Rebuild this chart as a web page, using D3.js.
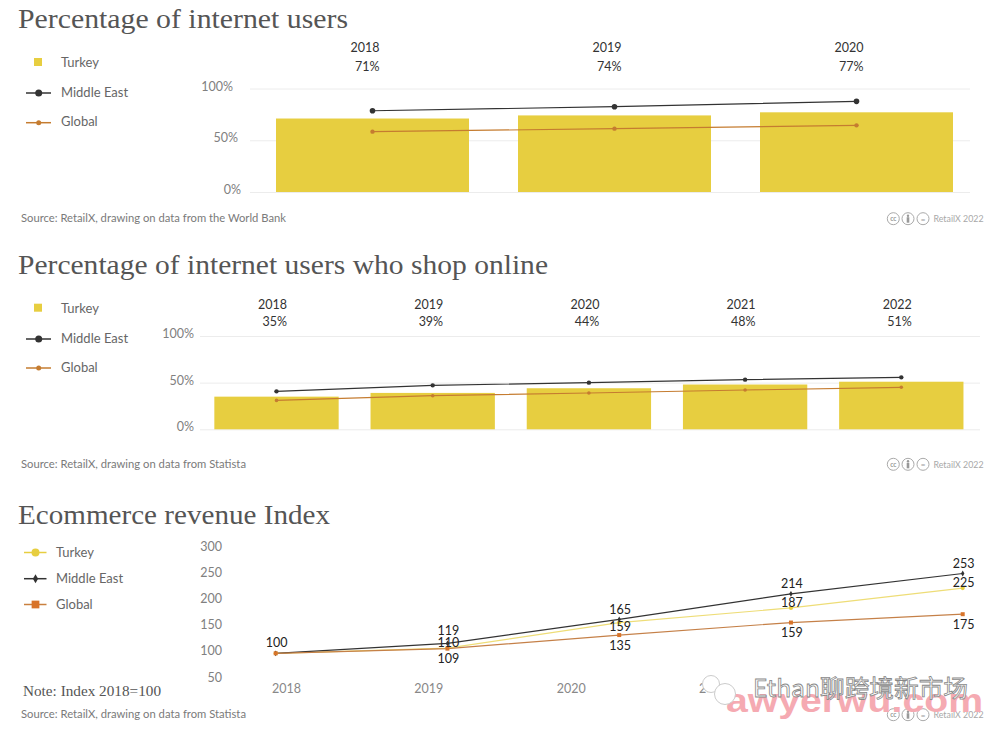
<!DOCTYPE html>
<html><head><meta charset="utf-8">
<script src="https://cdn.jsdelivr.net/npm/d3@7"></script>
<style>
html,body{margin:0;padding:0;background:#fff}
svg{display:block}
text{font-family:"Lato","Noto Sans",sans-serif}
.title,.note{font-family:"Liberation Serif",serif;fill:#555}
</style></head><body>
<svg id="c" width="1000" height="733"></svg>
<script>
// ---- data ----
const years1 = ["2018","2019","2020"];
const turkey1 = [71,74,77];
const middleEast1 = [78.5,82.4,87.6];
const global1 = [58.3,61.2,64.4];

const years2 = ["2018","2019","2020","2021","2022"];
const turkey2 = [35,39,44,48,51];
const middleEast2 = [40.7,47.1,50,53.2,55.7];
const global2 = [31,36,38.9,42.1,45];

const years3 = ["2018","2019","2020","2021","2022"];
const visibleYearTicks3 = ["2018","2019","2020","2021"];
const turkey3 = [100,110,159,187,225];
const middleEast3 = [100,119,165,214,253];
const global3 = [100,109,135,159,175];

const pctTicks = [0,50,100];
const indexTicks = [50,100,150,200,250,300];
const legendNames = ["Turkey","Middle East","Global"];

// ---- style ----
const YELLOW="#e7ce40", DARK="#333333", ORANGE="#c57c30";
const svg=d3.select("#c");

function title(t,y,w){
  svg.append("text").attr("class","title").attr("x",18).attr("y",y)
    .attr("font-size",27).attr("textLength",w).attr("lengthAdjust","spacingAndGlyphs").text(t);
}
function source(t,y,w){
  svg.append("text").attr("x",21).attr("y",y).attr("font-size",11.5).attr("fill","#7a7a7a")
    .attr("textLength",w).attr("lengthAdjust","spacingAndGlyphs").text(t);
}
function credit(y){
  const g=svg.append("g").attr("transform",`translate(0,${y})`);
  [893.3,908,923].forEach((cx,i)=>{
    g.append("circle").attr("cx",cx).attr("cy",0).attr("r",6).attr("fill","none").attr("stroke","#aaa").attr("stroke-width",1);
    if(i===0) g.append("text").attr("x",cx).attr("y",2.2).attr("text-anchor","middle").attr("font-size",6.5).attr("font-weight",700).attr("fill","#999").text("cc");
    if(i===1){
      g.append("circle").attr("cx",cx).attr("cy",-3).attr("r",1.2).attr("fill","#999");
      g.append("rect").attr("x",cx-1.3).attr("y",-1.5).attr("width",2.6).attr("height",5.5).attr("fill","#999");
    }
    if(i===2) g.append("text").attr("x",cx).attr("y",2.8).attr("text-anchor","middle").attr("font-size",8).attr("font-weight",700).attr("fill","#999").text("=");
  });
  g.append("text").attr("x",933.5).attr("y",3.5).attr("font-size",10).attr("fill","#a8a8a8")
    .attr("textLength",50).attr("lengthAdjust","spacingAndGlyphs").text("RetailX 2022");
}
function legendLabel(x,y,t){
  svg.append("text").attr("x",x).attr("y",y+4.6).attr("font-size",13).attr("fill","#666").text(t);
}
function legendBars(ys,tys){
  svg.append("rect").attr("x",34).attr("y",ys[0]-4).attr("width",8).attr("height",8).attr("fill",YELLOW);
  svg.append("line").attr("x1",26).attr("x2",51).attr("y1",ys[1]).attr("y2",ys[1]).attr("stroke",DARK).attr("stroke-width",1.5);
  svg.append("circle").attr("cx",38.7).attr("cy",ys[1]).attr("r",3.5).attr("fill",DARK);
  svg.append("line").attr("x1",26).attr("x2",51).attr("y1",ys[2]).attr("y2",ys[2]).attr("stroke",ORANGE).attr("stroke-width",1.5);
  svg.append("circle").attr("cx",38.7).attr("cy",ys[2]).attr("r",2.5).attr("fill",ORANGE);
  legendNames.forEach((n,i)=>legendLabel(61,tys[i],n));
}

function barPanel(o){
  const x=d3.scaleBand().domain(o.years).range(o.xRange).paddingInner(o.pad).paddingOuter(o.pad/2);
  const y=d3.scaleLinear().domain([0,100]).range(o.yRange);
  const ax=svg.append("g").attr("transform",`translate(${o.gridX[0]},0)`)
    .call(d3.axisLeft(y).tickValues(pctTicks).tickFormat(d=>d+"%").tickSize(-(o.gridX[1]-o.gridX[0])));
  ax.select(".domain").remove();
  ax.selectAll(".tick line").attr("stroke","#ececec").attr("stroke-width",1);
  ax.selectAll(".tick text").attr("font-size",12.5).attr("fill","#808080")
    .style("font-family",'"Lato","Noto Sans",sans-serif')
    .attr("x",o.tickX).attr("dy","0.32em").attr("transform","translate(0,-2.5)");

  svg.append("g").selectAll("rect").data(o.years).join("rect")
    .attr("x",d=>x(d)).attr("width",x.bandwidth())
    .attr("y",(d,i)=>y(o.turkey[i])).attr("height",(d,i)=>y(0)-y(o.turkey[i]))
    .attr("fill",YELLOW);

  const cx=d=>x(d)+x.bandwidth()/2;
  [[o.me,DARK,o.mr],[o.gl,ORANGE,o.gr]].forEach(([vals,c,r])=>{
    const line=d3.line().x((v,i)=>cx(o.years[i])).y(v=>y(v));
    svg.append("path").attr("d",line(vals)).attr("fill","none").attr("stroke",c).attr("stroke-width",1.2);
    svg.append("g").selectAll("circle").data(vals).join("circle")
      .attr("cx",(v,i)=>cx(o.years[i])).attr("cy",v=>y(v)).attr("r",r).attr("fill",c);
  });

  svg.append("g").selectAll("text").data(o.years).join("text")
    .attr("x",d=>cx(d)+o.yearDx).attr("y",o.labelY[0]).attr("text-anchor","middle")
    .attr("font-size",12.5).attr("fill","#333").text(d=>d);
  svg.append("g").selectAll("text").data(o.turkey).join("text")
    .attr("x",(v,i)=>cx(o.years[i])+o.valDx).attr("y",o.labelY[1]).attr("text-anchor","middle")
    .attr("font-size",12.5).attr("fill","#333").text(v=>v+"%");
}

// ---- panel 1 ----
title("Percentage of internet users",28,330);
legendBars([62,93,122.7],[62,92,121.5]);
barPanel({years:years1,turkey:turkey1,me:middleEast1,gl:global1,
  xRange:[251.5,977.5],pad:0.2025,yRange:[192,88.5],gridX:[250,970],
  tickX:d=>({0:-9,50:-12,100:-17}[d]),
  labelY:[52,71],yearDx:-7.5,valDx:-5.3,mr:2.8,gr:2.2});
source("Source: RetailX, drawing on data from the World Bank",222,265);
credit(218.7);

// ---- panel 2 ----
title("Percentage of internet users who shop online",274,530);
legendBars([307.7,339,368],[308,338,367]);
barPanel({years:years2,turkey:turkey2,me:middleEast2,gl:global2,
  xRange:[198.4,979.4],pad:0.204,yRange:[429.3,336],gridX:[200,980],
  tickX:()=>-6,
  labelY:[308.5,325.5],yearDx:-4,valDx:-1.8,mr:2.2,gr:1.8});
source("Source: RetailX, drawing on data from Statista",468,225);
credit(464.3);

// ---- panel 3 ----
title("Ecommerce revenue Index",524,312);
const xp=d3.scalePoint().domain(years3).range([275.7,962.7]);
const xt=d3.scalePoint().domain(years3).range([286,855.3]);
const y3=d3.scaleLinear().domain([50,300]).range([679.4,549]);

const ay=svg.append("g").attr("transform","translate(222,0)")
  .call(d3.axisLeft(y3).tickValues(indexTicks).tickSize(0));
ay.select(".domain").remove();
ay.selectAll(".tick text").attr("font-size",12.5).attr("fill","#808080")
  .style("font-family",'"Lato","Noto Sans",sans-serif')
  .attr("x",0).attr("dy","0.32em").attr("transform","translate(0,-2.4)");

const ax3=svg.append("g").attr("transform","translate(0,677)")
  .call(d3.axisBottom(xt).tickValues(visibleYearTicks3).tickSize(0));
ax3.select(".domain").remove();
ax3.selectAll(".tick text").attr("font-size",12.5).attr("fill","#888")
  .style("font-family",'"Lato","Noto Sans",sans-serif').attr("y",7);

const series3=[
  {vals:turkey3,color:"#eedd77",mark:d3.symbolCircle,size:14,mc:YELLOW},
  {vals:middleEast3,color:DARK,mark:d3.symbolDiamond,size:10,mc:DARK},
  {vals:global3,color:"#c58048",mark:d3.symbolSquare,size:16,mc:"#d8742a"}
];
series3.forEach(s=>{
  const line=d3.line().x((v,i)=>xp(years3[i])).y(v=>y3(v));
  svg.append("path").attr("d",line(s.vals)).attr("fill","none").attr("stroke",s.color).attr("stroke-width",1.2);
});
series3.forEach(s=>{
  svg.append("g").selectAll("path").data(s.vals).join("path")
    .attr("d",d3.symbol().type(s.mark).size(s.size))
    .attr("transform",(v,i)=>`translate(${xp(years3[i])},${y3(v)})`).attr("fill",s.mc);
});

// value labels, placed around each point
const labelDy={
  me:(i)=>i===1?-13:-10.5,
  tu:(i)=>i===2?4:-6,
  gl:(i)=>10
};
function valueLabels(vals,dyFn,start){
  svg.append("g").selectAll("text").data(vals.slice(start)).join("text")
    .attr("x",(v,i)=>xp(years3[i+start])+1).attr("y",(v,i)=>y3(v)+dyFn(i+start)+4.6)
    .attr("text-anchor","middle").attr("font-size",12.5).attr("fill","#222").text(v=>v);
}
valueLabels(middleEast3,labelDy.me,0);
valueLabels(turkey3,labelDy.tu,1);
valueLabels(global3,labelDy.gl,1);

// legend panel 3
const ly3=[552.5,578.7,604.5], lc3=[YELLOW,DARK,"#c9803f"];
ly3.forEach((yy,i)=>{
  svg.append("line").attr("x1",24).attr("x2",46.5).attr("y1",yy).attr("y2",yy).attr("stroke",lc3[i]).attr("stroke-width",1.5);
  svg.append("path").attr("d",d3.symbol().type(series3[i].mark).size([50,24,60][i]))
    .attr("transform",`translate(35.5,${yy})`).attr("fill",series3[i].mc);
  legendLabel(56,yy-0.5,legendNames[i]);
});
svg.append("text").attr("class","note").attr("x",23).attr("y",696).attr("font-size",14.5)
  .attr("textLength",138).attr("lengthAdjust","spacingAndGlyphs").text("Note: Index 2018=100");
source("Source: RetailX, drawing on data from Statista",718,225);
credit(714.7);

// ---- watermark laid over the picture ----
const wm=svg.append("g");
wm.append("rect").attr("x",708).attr("y",678).attr("width",30).attr("height",18).attr("fill","#fff");
wm.append("text").attr("x",726).attr("y",712).attr("font-size",33).attr("font-weight",700)
  .style("font-family",'"Liberation Sans",sans-serif').attr("fill","#f5aab2")
  .attr("textLength",257).attr("lengthAdjust","spacingAndGlyphs").text("awyerwu.com");
[[711,684,8.5],[725,694,10.5]].forEach(([cx,cy,r])=>{
  wm.append("circle").attr("cx",cx).attr("cy",cy).attr("r",r).attr("fill","#fff").attr("stroke","#ccc").attr("stroke-width",1);
});
wm.append("text").attr("x",753).attr("y",697).attr("font-size",24)
  .style("font-family",'"Noto Sans CJK SC",sans-serif').attr("fill","#fff").attr("stroke","#888").attr("stroke-width",0.8)
  .attr("textLength",215).attr("lengthAdjust","spacingAndGlyphs").text("Ethan聊跨境新市场");
</script>
</body></html>
